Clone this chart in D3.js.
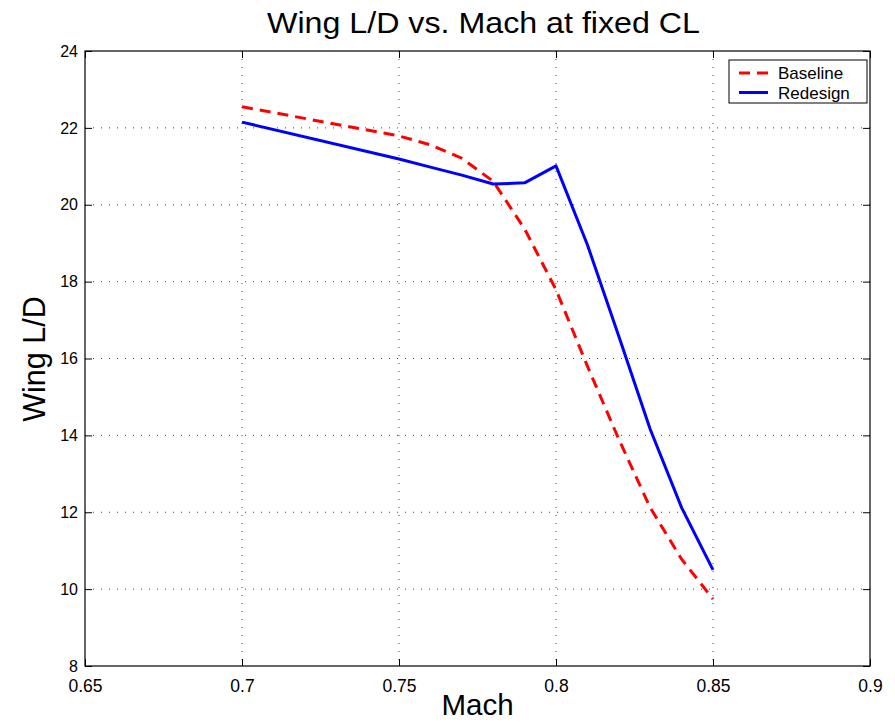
<!DOCTYPE html>
<html>
<head>
<meta charset="utf-8">
<script src="https://cdn.jsdelivr.net/npm/d3@7"></script>
<style>
  body { margin: 0; background: #fff; }
  text { font-family: "Liberation Sans", Arial, Helvetica, sans-serif; fill: #000; }
</style>
</head>
<body>
<div id="chart"></div>
<script>
// data
const mach = [0.70, 0.75, 0.76, 0.77, 0.78, 0.79, 0.80, 0.81, 0.82, 0.83, 0.84, 0.85];
const baseline = [22.55, 21.79, 21.56, 21.21, 20.61, 19.37, 17.79, 15.8, 13.9, 12.12, 10.78, 9.74];
const redesign = [22.15, 21.19, 20.98, 20.77, 20.54, 20.57, 21.01, 18.96, 16.58, 14.16, 12.12, 10.5];
const xTicks = [0.65, 0.7, 0.75, 0.8, 0.85, 0.9];
const yTicks = [8, 10, 12, 14, 16, 18, 20, 22, 24];
const seriesNames = ["Baseline", "Redesign"];

const W = 895, H = 723;
const margin = {top: 51, right: 25, bottom: 57, left: 85};
const width = W - margin.left - margin.right,
      height = H - margin.top - margin.bottom;

const svg = d3.select("#chart").append("svg")
  .attr("width", W).attr("height", H);

const g = svg.append("g")
  .attr("transform", `translate(${margin.left},${margin.top})`);

const x = d3.scaleLinear().domain([0.65, 0.9]).range([0, width]);
const y = d3.scaleLinear().domain([8, 24]).range([height, 0]);

// dotted grid
g.append("g").selectAll("line")
  .data(xTicks.slice(1, -1))
  .join("line")
  .attr("x1", d => x(d)).attr("x2", d => x(d))
  .attr("y1", 0).attr("y2", height)
  .attr("stroke", "#444").attr("stroke-width", 1)
  .attr("stroke-dasharray", "1,7");
g.append("g").selectAll("line")
  .data(yTicks.slice(1, -1))
  .join("line")
  .attr("y1", d => y(d)).attr("y2", d => y(d))
  .attr("x1", 0).attr("x2", width)
  .attr("stroke", "#444").attr("stroke-width", 1)
  .attr("stroke-dasharray", "1,7");

// axes with inward ticks (MATLAB style)
const tk = 7;
const xAxis = g.append("g").attr("transform", `translate(0,${height})`)
  .call(d3.axisBottom(x).tickValues(xTicks).tickSizeInner(-tk).tickSizeOuter(0).tickPadding(tk + 7)
    .tickFormat(d3.format("")));
const yAxis = g.append("g")
  .call(d3.axisLeft(y).tickValues(yTicks).tickSizeInner(-tk).tickSizeOuter(0).tickPadding(6));
g.append("g")
  .call(d3.axisTop(x).tickValues(xTicks).tickSizeInner(-tk).tickSizeOuter(0).tickFormat(""));
g.append("g").attr("transform", `translate(${width},0)`)
  .call(d3.axisRight(y).tickValues(yTicks).tickSizeInner(-tk).tickSizeOuter(0).tickFormat(""));

g.selectAll(".domain").remove();
g.selectAll(".tick line").attr("stroke", "#000");
g.selectAll(".tick text").attr("fill", "#000");
xAxis.selectAll(".tick text").style("font-size", "17.5px");
yAxis.selectAll(".tick text").style("font-size", "16px").attr("x", -7);

g.append("rect")
  .attr("width", width).attr("height", height)
  .attr("fill", "none").attr("stroke", "#000").attr("stroke-width", 1.2);

// lines
const line = d3.line().x(d => x(d[0])).y(d => y(d[1]));

g.append("path")
  .datum(mach.map((m, i) => [m, baseline[i]]))
  .attr("d", line)
  .attr("fill", "none").attr("stroke", "#ff0000").attr("stroke-width", 3)
  .attr("stroke-dasharray", "11,7");

g.append("path")
  .datum(mach.map((m, i) => [m, redesign[i]]))
  .attr("d", line)
  .attr("fill", "none").attr("stroke", "#0000ff").attr("stroke-width", 3)
  .attr("stroke-linejoin", "round");

// legend
const lg = svg.append("g").attr("transform", "translate(729,60)");
lg.append("rect").attr("width", 138).attr("height", 43)
  .attr("fill", "#fff").attr("stroke", "#000").attr("stroke-width", 1);
const styles = [{c: "#ff0000", dash: "11,7"}, {c: "#0000ff", dash: null}];
seriesNames.forEach((name, i) => {
  const yy = 13 + i * 19.5;
  lg.append("line").attr("x1", 10).attr("x2", 39).attr("y1", yy).attr("y2", yy)
    .attr("stroke", styles[i].c).attr("stroke-width", 3)
    .attr("stroke-dasharray", styles[i].dash);
  lg.append("text").attr("x", 49).attr("y", yy + 6)
    .style("font-size", "17px").text(name);
});

// titles
svg.append("text")
  .attr("x", 483.5).attr("y", 33)
  .attr("text-anchor", "middle").style("font-size", "30px")
  .attr("textLength", 433).attr("lengthAdjust", "spacingAndGlyphs")
  .text("Wing L/D vs. Mach at fixed CL");

svg.append("text")
  .attr("x", 477.5).attr("y", 715)
  .attr("text-anchor", "middle").style("font-size", "29.5px")
  .text("Mach");

svg.append("text")
  .attr("transform", `translate(45,359) rotate(-90)`)
  .attr("text-anchor", "middle").style("font-size", "30.5px")
  .text("Wing L/D");
</script>
</body>
</html>
